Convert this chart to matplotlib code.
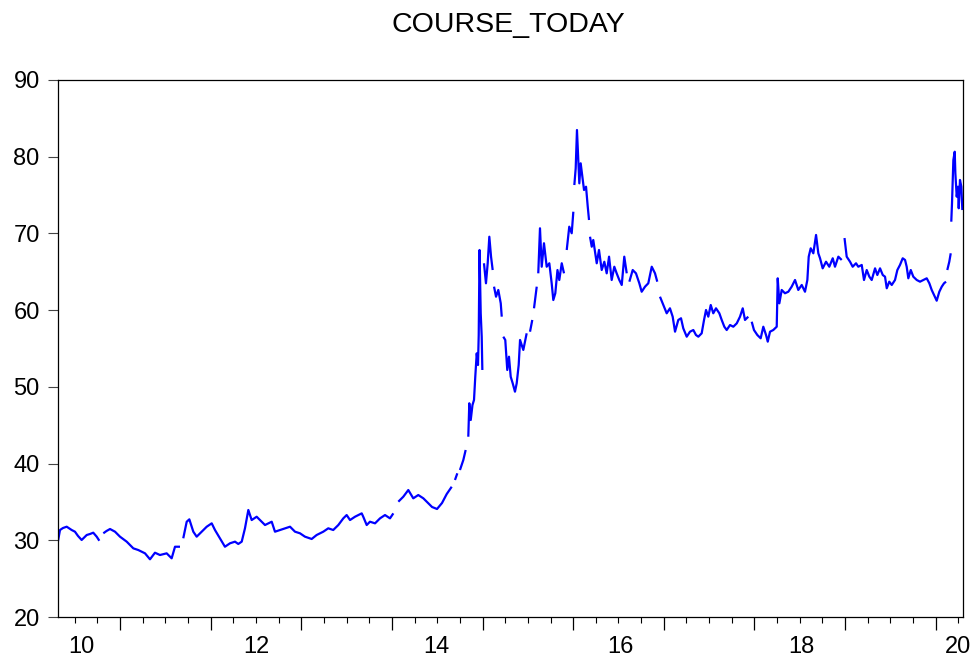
import numpy as np
import matplotlib
matplotlib.use("Agg")
import matplotlib.pyplot as plt

nan = np.nan

# Daily quote sampled through the period (decimal years); nan marks a missing quote
dates = [
    # 2010
    2010.308, 2010.338, 2010.371, 2010.412, 2010.467, 2010.503, 2010.537, 2010.577, 2010.633,
    2010.669, 2010.705, 2010.743, 2010.772, 2010.794, 2010.816, 2010.851, 2010.890, 2010.945,
    # 2011
    2011.000, 2011.074, 2011.147, 2011.202, 2011.276, 2011.331, 2011.386, 2011.441, 2011.515,
    2011.570, 2011.607, 2011.662, 2011.680, 2011.698, 2011.736, 2011.765, 2011.809, 2011.846,
    2011.901, 2011.957,
    # 2012
    2012.012, 2012.048, 2012.103, 2012.158, 2012.214, 2012.269, 2012.305, 2012.343, 2012.379,
    2012.416, 2012.453, 2012.508, 2012.563, 2012.600, 2012.674, 2012.710, 2012.765, 2012.821,
    2012.876, 2012.931, 2012.986,
    # 2013
    2013.041, 2013.115, 2013.170, 2013.243, 2013.298, 2013.353, 2013.409, 2013.464, 2013.501,
    2013.538, 2013.593, 2013.667, 2013.684, 2013.722, 2013.758, 2013.814, 2013.869, 2013.924,
    2013.979,
    # 2014
    2014.016, 2014.043, 2014.071, 2014.126, 2014.181, 2014.236, 2014.291, 2014.347, 2014.398,
    2014.443, 2014.498, 2014.553, 2014.605, 2014.660, 2014.678, 2014.696, 2014.722, 2014.736,
    2014.751, 2014.788, 2014.814, 2014.829, 2014.843, 2014.854, 2014.870, 2014.889, 2014.906,
    2014.920, 2014.936, 2014.950, 2014.958, 2014.967, 2014.980, 2014.991, 2014.998,
    # 2015
    2015.007, 2015.016, 2015.038, 2015.057, 2015.075, 2015.094, 2015.112, 2015.120, 2015.127,
    2015.149, 2015.174, 2015.201, 2015.212, 2015.220, 2015.229, 2015.251, 2015.273, 2015.292,
    2015.311, 2015.333, 2015.358, 2015.377, 2015.399, 2015.414, 2015.450, 2015.487, 2015.505,
    2015.524, 2015.549, 2015.558, 2015.568, 2015.598, 2015.606, 2015.615, 2015.634, 2015.653,
    2015.678, 2015.708, 2015.737, 2015.763, 2015.781, 2015.803, 2015.827, 2015.847, 2015.874,
    2015.899, 2015.914, 2015.929, 2015.957, 2015.984,
    # 2016
    2016.002, 2016.008, 2016.013, 2016.028, 2016.042, 2016.057, 2016.068, 2016.083, 2016.101,
    2016.120, 2016.142, 2016.161, 2016.175, 2016.180, 2016.186, 2016.205, 2016.222, 2016.241,
    2016.260, 2016.285, 2016.315, 2016.344, 2016.370, 2016.396, 2016.425, 2016.454, 2016.480,
    2016.509, 2016.536, 2016.564, 2016.591, 2016.605, 2016.620, 2016.657, 2016.693, 2016.730,
    2016.756, 2016.793, 2016.829, 2016.867, 2016.903, 2016.928, 2016.943, 2016.958, 2016.995,
    # 2017
    2017.032, 2017.068, 2017.098, 2017.124, 2017.160, 2017.190, 2017.215, 2017.253, 2017.289,
    2017.326, 2017.355, 2017.381, 2017.418, 2017.444, 2017.466, 2017.491, 2017.518, 2017.546,
    2017.576, 2017.613, 2017.639, 2017.668, 2017.694, 2017.731, 2017.767, 2017.805, 2017.841,
    2017.871, 2017.896, 2017.932, 2017.951, 2017.970, 2017.995,
    # 2018
    2018.032, 2018.069, 2018.098, 2018.128, 2018.147, 2018.172, 2018.208, 2018.246, 2018.257,
    2018.275, 2018.301, 2018.337, 2018.374, 2018.411, 2018.448, 2018.484, 2018.522, 2018.558,
    2018.584, 2018.599, 2018.621, 2018.650, 2018.680, 2018.705, 2018.724, 2018.753, 2018.790,
    2018.826, 2018.864, 2018.889, 2018.926, 2018.963, 2018.978, 2018.994,
    # 2019
    2019.018, 2019.055, 2019.084, 2019.121, 2019.146, 2019.184, 2019.209, 2019.239, 2019.268,
    2019.294, 2019.331, 2019.356, 2019.386, 2019.416, 2019.441, 2019.460, 2019.488, 2019.515,
    2019.551, 2019.577, 2019.606, 2019.636, 2019.662, 2019.680, 2019.698, 2019.725, 2019.753,
    2019.791, 2019.827, 2019.863, 2019.901, 2019.930, 2019.956, 2019.982,
    # 2020
    2020.011, 2020.040, 2020.067, 2020.092, 2020.114, 2020.121, 2020.128, 2020.150, 2020.166,
    2020.169, 2020.172, 2020.180, 2020.195, 2020.210, 2020.217, 2020.232, 2020.246, 2020.254,
    2020.268, 2020.283, 2020.294,
]

course = [
    # 2010
    29.39, 31.34, 31.60, 31.77, 31.34, 31.12, 30.56, 30.04, 30.69,
    30.82, 30.99, 30.47, 29.94, nan, 30.91, 31.21, 31.47, 31.12,
    # 2011
    30.47, 29.82, 28.95, 28.73, 28.30, 27.52, 28.38, 28.08, 28.30,
    27.65, 29.16, 29.16, nan, 30.26, 32.42, 32.73, 31.12, 30.47,
    31.12, 31.77,
    # 2012
    32.21, 31.34, 30.26, 29.16, 29.61, 29.82, 29.52, 29.82, 31.56,
    33.95, 32.64, 33.07, 32.42, 31.99, 32.42, 31.12, 31.34, 31.56,
    31.77, 31.12, 30.91,
    # 2013
    30.47, 30.17, 30.69, 31.12, 31.56, 31.34, 31.99, 32.86, 33.29,
    32.64, 33.07, 33.51, 33.07, 31.99, 32.42, 32.21, 32.86, 33.29,
    32.86,
    # 2014
    33.51, nan, 35.03, 35.68, 36.55, 35.47, 35.90, 35.47, 34.86,
    34.34, 34.08, 34.86, 36.03, 36.98, nan, 37.86, 38.73, nan,
    39.16, 40.46, 41.77, nan, 43.50, 47.86, 45.68, 47.63, 48.29,
    51.32, 54.37, 52.85, 56.76, 67.84, 59.59, 56.54, 52.20,
    # 2015
    nan, 66.11, 63.50, 66.11, 69.57, 66.97, 65.23, nan, 63.06,
    61.75, 62.63, 60.89, 59.15, nan, 56.54, 56.11, 52.20, 53.93,
    51.32, 50.46, 49.37, 50.46, 52.85, 56.11, 54.81, 56.98, nan,
    57.19, 58.72, nan, 60.24, 63.06, nan, 64.80, 70.67, 65.66,
    68.72, 65.66, 66.11, 63.50, 61.32, 62.20, 65.23, 63.93, 66.11,
    64.80, nan, 67.84, 70.88, 70.02,
    # 2016
    72.83, nan, 76.31, 78.49, 83.48, 79.57, 76.53, 79.14, 77.40,
    75.66, 76.09, 73.48, 71.75, nan, 69.57, 68.27, 69.14, 67.62,
    66.11, 67.84, 65.23, 66.31, 64.80, 66.97, 63.93, 65.66, 64.80,
    63.93, 63.28, 66.97, 64.80, nan, 63.71, 65.23, 64.80, 63.50,
    62.40, 63.06, 63.50, 65.66, 64.80, 63.71, nan, 61.75, 60.67,
    # 2017
    59.59, 60.24, 59.15, 57.19, 58.72, 58.94, 57.63, 56.54, 57.19,
    57.41, 56.76, 56.54, 56.98, 58.72, 60.02, 59.15, 60.67, 59.59,
    60.24, 59.59, 58.72, 57.84, 57.41, 58.06, 57.84, 58.28, 59.15,
    60.24, 58.72, 59.15, nan, 58.49, 57.41,
    # 2018
    56.76, 56.33, 57.84, 56.76, 55.89, 57.19, 57.41, 57.84, 64.15,
    60.89, 62.63, 62.20, 62.40, 63.06, 63.93, 62.63, 63.28, 62.40,
    63.93, 66.97, 68.06, 67.41, 69.80, 67.41, 66.76, 65.45, 66.31,
    65.66, 66.76, 65.66, 66.97, 66.54, nan, 69.40,
    # 2019
    66.97, 66.31, 65.66, 66.11, 65.66, 65.89, 63.93, 65.23, 64.36,
    63.93, 65.45, 64.58, 65.45, 64.58, 64.36, 62.85, 63.71, 63.28,
    63.93, 65.23, 65.89, 66.76, 66.54, 65.66, 64.15, 65.23, 64.36,
    63.93, 63.71, 63.93, 64.15, 63.50, 62.63, 61.97,
    # 2020
    61.23, 62.40, 63.06, 63.50, 63.71, nan, 65.23, 66.31, 67.41,
    nan, 71.53, 73.93, 79.57, 80.65, 77.84, 74.79, 76.09, 73.28,
    76.97, 76.09, 73.05,
]

year_labels = ["10", "12", "14", "16", "18", "20"]
year_label_pos = [2010.577, 2012.508, 2014.494, 2016.517, 2018.522, 2020.246]
y_ticks = [20, 30, 40, 50, 60, 70, 80, 90]

plt.rcParams["font.family"] = ["Liberation Sans", "DejaVu Sans"]

W, H = 973, 662
fig = plt.figure(figsize=(W / 100, H / 100), dpi=100)
left, right, top, bottom = 58, 962.7, 80, 617
ax = fig.add_axes([left / W, 1 - bottom / H, (right - left) / W, (bottom - top) / H])

ax.plot(np.array(dates), np.array(course), color="#0000ff", lw=1.6,
        solid_joinstyle="round", solid_capstyle="butt")

x0, x1 = 2010.316, 2020.298
ax.set_xlim(x0, x1)
ax.set_ylim(20, 90)

for s in ax.spines.values():
    s.set_linewidth(0.9)
    s.set_color("black")

ax.set_yticks(y_ticks)
ax.tick_params(axis="y", direction="out", length=7.2, width=0.8,
               pad=6, labelsize=17, color="#444444")

# Year boundaries as long ticks, quarters as short ticks
ax.set_xticks(list(range(2011, 2021)))
ax.set_xticklabels([])
quarters = [y + q for y in range(2010, 2021) for q in (0.25, 0.5, 0.75)
            if x0 <= y + q <= x1]
ax.set_xticks(quarters, minor=True)
ax.tick_params(axis="x", which="major", direction="out", length=9, width=0.9)
ax.tick_params(axis="x", which="minor", direction="out", length=4.5, width=0.8)

for pos, lab in zip(year_label_pos, year_labels):
    ax.text(pos, -0.035, lab, transform=ax.get_xaxis_transform(),
            ha="center", va="top", fontsize=17, clip_on=False)

fig.text(508 / W, 1 - 31.7 / H, "COURSE_TODAY", ha="center", va="baseline",
         fontsize=20.5)

fig.savefig("out.png", dpi=100)
